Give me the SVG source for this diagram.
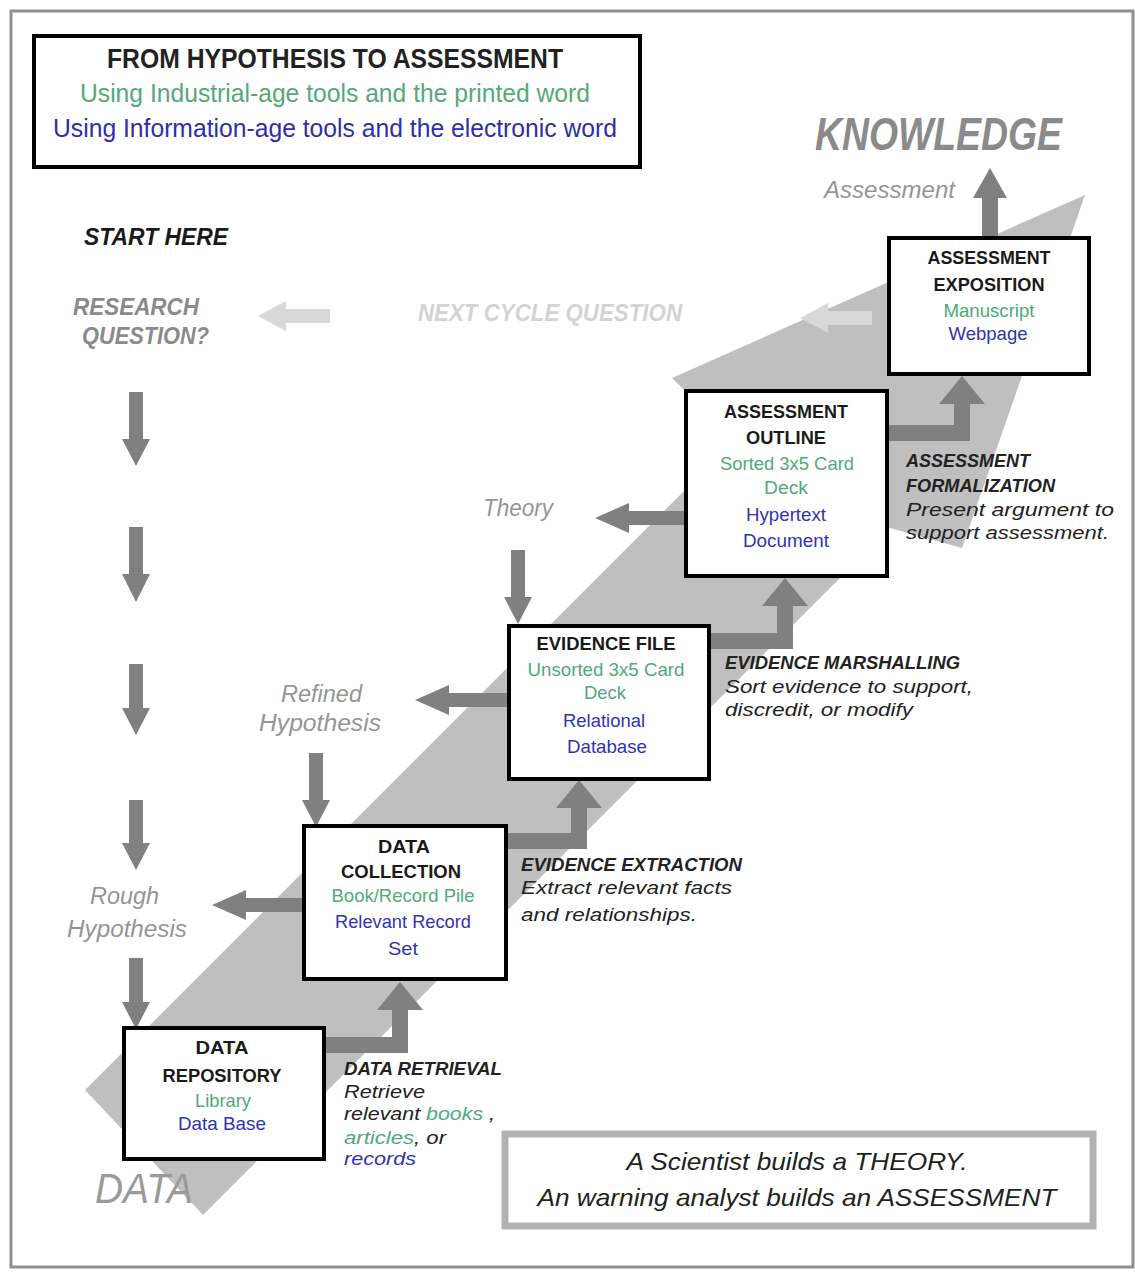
<svg xmlns="http://www.w3.org/2000/svg" width="1135" height="1272" viewBox="0 0 1135 1272">
  <style>
    text { font-family: "Liberation Sans", Arial, sans-serif; }
    .box { fill: #ffffff; stroke: #000000; stroke-width: 4; }
    .hd { font-size: 19px; font-weight: bold; fill: #1a1a1a; text-anchor: middle; }
    .gr { font-size: 19px; fill: #4fa97c; text-anchor: middle; }
    .bl { font-size: 19px; fill: #3232b4; text-anchor: middle; }
    .sh { font-size: 18px; font-weight: bold; font-style: italic; fill: #222222; }
    .si { font-size: 19px; font-style: italic; fill: #222222; }
    .lab { font-size: 23px; font-style: italic; fill: #959595; }
    .tg { fill: #4fa97c; }
    .tb { fill: #3232b4; }
    .arr { fill: #808080; }
    .lt { fill: #d8d8d8; }
  </style>

  <!-- page frame -->
  <rect x="0" y="0" width="1135" height="1272" fill="#ffffff"/>
  <rect x="11" y="11" width="1122" height="1256" fill="none" stroke="#8f8f8f" stroke-width="3"/>

  <!-- large diagonal arrow from DATA to KNOWLEDGE -->
  <polygon id="progress-band" points="85,1090 735,440 672,378 1085,195 962,548 890,528 203,1215" fill="#bfbfbf"/>

  <!-- title -->
  <g id="title">
    <rect x="34" y="36" width="606" height="131" fill="#ffffff" stroke="#000000" stroke-width="4"/>
    <text x="335" y="68" font-size="27" font-weight="bold" fill="#222222" text-anchor="middle" textLength="456" lengthAdjust="spacingAndGlyphs">FROM HYPOTHESIS TO ASSESSMENT</text>
    <text x="335" y="102" font-size="26" fill="#55a87c" text-anchor="middle" textLength="510" lengthAdjust="spacingAndGlyphs">Using Industrial-age tools and the printed word</text>
    <text x="335" y="137" font-size="26" fill="#2e2eaa" text-anchor="middle" textLength="564" lengthAdjust="spacingAndGlyphs">Using Information-age tools and the electronic word</text>
  </g>

  <!-- free labels -->
  <g id="labels">
    <text x="815" y="150" font-size="46" font-weight="bold" font-style="italic" fill="#8a8a8a" textLength="247" lengthAdjust="spacingAndGlyphs">KNOWLEDGE</text>
    <text class="lab" x="824" y="198" fill="#8e8e8e" textLength="131" lengthAdjust="spacingAndGlyphs">Assessment</text>
    <text x="84" y="245" font-size="23" font-weight="bold" font-style="italic" fill="#1a1a1a" textLength="144" lengthAdjust="spacingAndGlyphs">START HERE</text>
    <text x="73" y="315" font-size="23" font-weight="bold" font-style="italic" fill="#8a8a8a" textLength="126" lengthAdjust="spacingAndGlyphs">RESEARCH</text>
    <text x="82" y="344" font-size="23" font-weight="bold" font-style="italic" fill="#8a8a8a" textLength="127" lengthAdjust="spacingAndGlyphs">QUESTION?</text>
    <text x="418" y="321" font-size="23" font-weight="bold" font-style="italic" fill="#d3d3d3" textLength="264" lengthAdjust="spacingAndGlyphs">NEXT CYCLE QUESTION</text>
    <text class="lab" x="483" y="516" textLength="70" lengthAdjust="spacingAndGlyphs">Theory</text>
    <text class="lab" x="281" y="702" textLength="81" lengthAdjust="spacingAndGlyphs">Refined</text>
    <text class="lab" x="259" y="731" textLength="122" lengthAdjust="spacingAndGlyphs">Hypothesis</text>
    <text class="lab" x="90" y="904" textLength="69" lengthAdjust="spacingAndGlyphs">Rough</text>
    <text class="lab" x="67" y="937" textLength="120" lengthAdjust="spacingAndGlyphs">Hypothesis</text>
    <text x="95" y="1203" font-size="42" font-style="italic" fill="#9a9a9a" textLength="98" lengthAdjust="spacingAndGlyphs">DATA</text>
  </g>

  <!-- connectors -->
  <g id="connectors">
    <!-- research question descent -->
    <path class="arr" d="M129,392 H143 V439 H150 L136,466 L122,439 H129 Z"/>
    <path class="arr" d="M129,527 H143 V574 H150 L136,602 L122,574 H129 Z"/>
    <path class="arr" d="M129,664 H143 V708 H150 L136,735 L122,708 H129 Z"/>
    <path class="arr" d="M129,800 H143 V843 H150 L136,870 L122,843 H129 Z"/>
    <!-- hypotheses feeding the boxes -->
    <path class="arr" d="M129,958 H143 V1002 H150 L136,1029 L122,1002 H129 Z"/>
    <path class="arr" d="M309,753 H323 V800 H330 L316,827 L302,800 H309 Z"/>
    <path class="arr" d="M511,550 H525 V597 H532 L518,624 L504,597 H511 Z"/>
    <!-- boxes producing hypotheses / theory -->
    <path class="arr" d="M685,511 H629 V503 L595,518 L629,533 V525 H685 Z"/>
    <path class="arr" d="M508,693 H449 V685 L415,700 L449,715 V707 H508 Z"/>
    <path class="arr" d="M303,898 H246 V890 L212,905 L246,920 V912 H303 Z"/>
    <!-- stepwise elbows -->
    <path class="arr" d="M325,1037 H392 V1010 H377 L400,982 L423,1010 H408 V1053 H325 Z"/>
    <path class="arr" d="M507,833 H571 V808 H556 L579,780 L602,808 H587 V849 H507 Z"/>
    <path class="arr" d="M710,633 H777 V606 H762 L785,578 L808,606 H793 V649 H710 Z"/>
    <path class="arr" d="M888,425 H954 V404 H939 L962,376 L985,404 H970 V441 H888 Z"/>
    <!-- assessment to knowledge -->
    <path class="arr" d="M982,237 H998 V198 H1007 L990,168 L973,198 H982 Z"/>
    <!-- next cycle -->
    <path class="lt" d="M330,309 H286 V301 L258,316 L286,331 V323 H330 Z"/>
    <path class="lt" d="M872,311 H828 V303 L800,318 L828,333 V325 H872 Z"/>
  </g>

  <g id="assessment-exposition">
    <rect class="box" x="889" y="238" width="200" height="136"/>
    <text class="hd" x="989" y="264" textLength="123" lengthAdjust="spacingAndGlyphs">ASSESSMENT</text>
    <text class="hd" x="989" y="291" textLength="111" lengthAdjust="spacingAndGlyphs">EXPOSITION</text>
    <text class="gr" x="989" y="317" textLength="91" lengthAdjust="spacingAndGlyphs">Manuscript</text>
    <text class="bl" x="988" y="340" textLength="79" lengthAdjust="spacingAndGlyphs">Webpage</text>
  </g>

  <g id="assessment-outline">
    <rect class="box" x="686" y="391" width="201" height="185"/>
    <text class="hd" x="786" y="418" textLength="124" lengthAdjust="spacingAndGlyphs">ASSESSMENT</text>
    <text class="hd" x="786" y="444" textLength="80" lengthAdjust="spacingAndGlyphs">OUTLINE</text>
    <text class="gr" x="787" y="470" textLength="134" lengthAdjust="spacingAndGlyphs">Sorted 3x5 Card</text>
    <text class="gr" x="786" y="494" textLength="44" lengthAdjust="spacingAndGlyphs">Deck</text>
    <text class="bl" x="786" y="521" textLength="80" lengthAdjust="spacingAndGlyphs">Hypertext</text>
    <text class="bl" x="786" y="547" textLength="86" lengthAdjust="spacingAndGlyphs">Document</text>
  </g>

  <g id="evidence-file">
    <rect class="box" x="509" y="626" width="200" height="153"/>
    <text class="hd" x="606" y="650" textLength="139" lengthAdjust="spacingAndGlyphs">EVIDENCE FILE</text>
    <text class="gr" x="606" y="676" textLength="157" lengthAdjust="spacingAndGlyphs">Unsorted 3x5 Card</text>
    <text class="gr" x="605" y="699" textLength="42" lengthAdjust="spacingAndGlyphs">Deck</text>
    <text class="bl" x="604" y="727" textLength="82" lengthAdjust="spacingAndGlyphs">Relational</text>
    <text class="bl" x="607" y="753" textLength="80" lengthAdjust="spacingAndGlyphs">Database</text>
  </g>

  <g id="data-collection">
    <rect class="box" x="304" y="826" width="202" height="153"/>
    <text class="hd" x="404" y="853" textLength="52" lengthAdjust="spacingAndGlyphs">DATA</text>
    <text class="hd" x="401" y="878" textLength="120" lengthAdjust="spacingAndGlyphs">COLLECTION</text>
    <text class="gr" x="403" y="902" textLength="143" lengthAdjust="spacingAndGlyphs">Book/Record Pile</text>
    <text class="bl" x="403" y="928" textLength="136" lengthAdjust="spacingAndGlyphs">Relevant Record</text>
    <text class="bl" x="403" y="955" textLength="30" lengthAdjust="spacingAndGlyphs">Set</text>
  </g>

  <g id="data-repository">
    <rect class="box" x="124" y="1028" width="200" height="131"/>
    <text class="hd" x="222" y="1054" textLength="53" lengthAdjust="spacingAndGlyphs">DATA</text>
    <text class="hd" x="222" y="1082" textLength="119" lengthAdjust="spacingAndGlyphs">REPOSITORY</text>
    <text class="gr" x="223" y="1107" textLength="56" lengthAdjust="spacingAndGlyphs">Library</text>
    <text class="bl" x="222" y="1130" textLength="88" lengthAdjust="spacingAndGlyphs">Data Base</text>
  </g>

  <!-- step descriptions -->
  <g id="step-formalization">
    <text class="sh" x="906" y="467" textLength="124" lengthAdjust="spacingAndGlyphs">ASSESSMENT</text>
    <text class="sh" x="906" y="492" textLength="149" lengthAdjust="spacingAndGlyphs">FORMALIZATION</text>
    <text class="si" x="906" y="516" textLength="208" lengthAdjust="spacingAndGlyphs">Present argument  to</text>
    <text class="si" x="906" y="539" textLength="203" lengthAdjust="spacingAndGlyphs">support assessment.</text>
  </g>
  <g id="step-marshalling">
    <text class="sh" x="725" y="669" textLength="235" lengthAdjust="spacingAndGlyphs">EVIDENCE MARSHALLING</text>
    <text class="si" x="725" y="693" textLength="248" lengthAdjust="spacingAndGlyphs">Sort evidence to support,</text>
    <text class="si" x="725" y="716" textLength="188" lengthAdjust="spacingAndGlyphs">discredit, or modify</text>
  </g>
  <g id="step-extraction">
    <text class="sh" x="521" y="871" textLength="221" lengthAdjust="spacingAndGlyphs">EVIDENCE EXTRACTION</text>
    <text class="si" x="521" y="894" textLength="211" lengthAdjust="spacingAndGlyphs">Extract relevant facts</text>
    <text class="si" x="521" y="921" textLength="176" lengthAdjust="spacingAndGlyphs">and relationships.</text>
  </g>
  <g id="step-retrieval">
    <text class="sh" x="344" y="1075" textLength="158" lengthAdjust="spacingAndGlyphs">DATA RETRIEVAL</text>
    <text class="si" x="344" y="1098" textLength="81" lengthAdjust="spacingAndGlyphs">Retrieve</text>
    <text class="si" x="344" y="1120" textLength="151" lengthAdjust="spacingAndGlyphs">relevant <tspan class="tg">books</tspan> ,</text>
    <text class="si" x="344" y="1144" textLength="102" lengthAdjust="spacingAndGlyphs"><tspan class="tg">articles</tspan>, or</text>
    <text class="si" x="344" y="1165" textLength="72" lengthAdjust="spacingAndGlyphs"><tspan class="tb">records</tspan></text>
  </g>

  <!-- closing statement -->
  <g id="summary">
    <rect x="505" y="1134" width="588" height="92" fill="#ffffff" stroke="#b3b3b3" stroke-width="7"/>
    <text x="797" y="1170" font-size="24" font-style="italic" fill="#222222" text-anchor="middle" textLength="341" lengthAdjust="spacingAndGlyphs">A Scientist builds a THEORY.</text>
    <text x="797" y="1206" font-size="24" font-style="italic" fill="#222222" text-anchor="middle" textLength="519" lengthAdjust="spacingAndGlyphs">An warning analyst builds an ASSESSMENT</text>
  </g>
</svg>
